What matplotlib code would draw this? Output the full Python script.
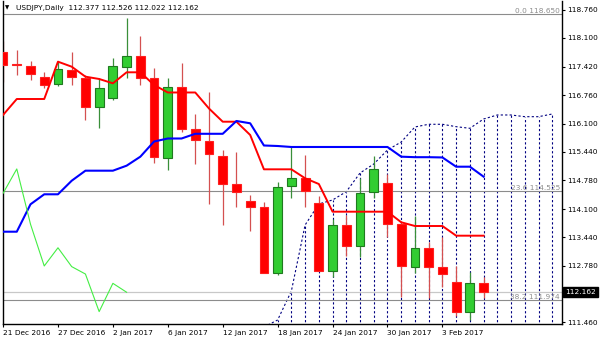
import numpy as np
import pandas as pd
import matplotlib
matplotlib.use("Agg")
import matplotlib.pyplot as plt
from matplotlib.patches import Rectangle

# USDJPY daily bars, 21 Dec 2016 .. 8 Feb 2017
dates = pd.bdate_range("2016-12-21", periods=36)
opens  = [117.776, 117.49, 117.449, 117.19, 117.015, 117.35, 117.17, 116.49, 116.688, 117.425,
          117.675, 117.155, 115.288, 116.96, 115.97, 115.69, 115.35, 114.68, 114.30, 114.145,
          112.605, 114.64, 114.82, 114.24, 112.66, 113.73, 113.24, 114.495, 114.72, 113.755,
          112.76, 113.20, 112.76, 112.41, 111.71, 112.377]
highs  = [118.03, 117.815, 117.558, 117.31, 117.54, 117.76, 117.23, 117.155, 117.62, 118.56,
          118.15, 117.39, 117.155, 117.505, 116.315, 116.83, 115.48, 115.43, 114.43, 114.26,
          114.74, 115.56, 115.365, 114.415, 113.87, 113.965, 114.835, 115.35, 114.915, 113.83,
          113.95, 113.34, 113.46, 112.78, 112.63, 112.526]
lows   = [117.069, 117.23, 117.115, 116.93, 116.98, 116.996, 116.18, 115.997, 116.65, 117.155,
          116.996, 115.19, 115.015, 115.91, 115.148, 114.215, 113.73, 114.16, 113.59, 112.60,
          112.56, 114.37, 114.16, 112.655, 112.51, 113.015, 112.99, 114.355, 113.46, 112.06,
          112.605, 112.02, 112.29, 111.61, 111.525, 112.022]
closes = [117.465, 117.465, 117.255, 116.997, 117.372, 117.192, 116.49, 116.92, 117.449, 117.675,
          117.17, 115.307, 116.96, 115.97, 115.715, 115.38, 114.68, 114.495, 114.16, 112.605,
          114.61, 114.82, 114.525, 112.66, 113.73, 113.25, 114.47, 115.04, 113.75, 112.775,
          113.20, 112.76, 112.587, 111.71, 112.37, 112.162]

# ichimoku lines
tenkan = [116.299, 116.672, 116.672, 116.672, 117.543, 117.426, 117.193, 117.139, 117.038, 117.295,
          117.295, 116.999, 116.824, 116.824, 116.824, 116.45, 116.142, 116.142, 115.832, 115.031,
          115.031, 115.031, 114.822, 114.688, 114.042, 114.042, 114.042, 114.042, 114.042, 113.795,
          113.708, 113.708, 113.708, 113.482, 113.482, 113.482]
kijun = [113.575, 113.575, 114.215, 114.448, 114.448, 114.765, 114.999, 114.999, 114.999, 115.116,
         115.326, 115.68, 115.75, 115.75, 115.86, 115.86, 115.86, 116.159, 116.105, 115.587,
         115.575, 115.552, 115.552, 115.552, 115.552, 115.552, 115.552, 115.552, 115.552, 115.326,
         115.314, 115.314, 115.308, 115.092, 115.092, 114.859]
cloud_idx = list(range(19, 41))
senkou = [111.351, 111.515, 112.191, 113.732, 114.222, 114.315, 114.509, 114.945, 115.155, 115.482,
          115.669, 116.019, 116.082, 116.082, 116.026, 115.988, 116.205, 116.299, 116.299, 116.259,
          116.259, 116.322]
shift = 26

fib_levels = [(0.0, 118.650), (23.6, 114.525), (38.2, 111.974)]
price_ticks = [118.760, 118.100, 117.420, 116.760, 116.100, 115.440, 114.780, 114.100,
               113.440, 112.780, 111.460]
bid = 112.162

fig = plt.figure(figsize=(6, 3.43), dpi=100)
ax = fig.add_axes([2.5 / 600, 19 / 343, 559.5 / 600, 323 / 343])
ax.set_xlim(-0.04, 40.71)
ax.set_ylim(111.421, 118.959)

x = np.arange(len(opens))

# cloud: dotted span + dotted verticals down off the chart
ymin = ax.get_ylim()[0]
ax.plot(cloud_idx, senkou, color="#000080", lw=0.8, ls=(0, (2, 2)), zorder=1)
ax.vlines(cloud_idx, ymin - 1, senkou, color="#000080", lw=0.8, linestyles=(0, (2, 2)), zorder=1)

# fib + bid lines
for lvl, price in fib_levels:
    ax.axhline(price, color="#8c8c8c", lw=0.8, zorder=1)
    ax.text(40.55, price, "%.1f %.3f" % (lvl, price), ha="right", va="bottom",
            fontsize=5.3, color="#8c8c8c", zorder=5)
ax.axhline(bid, color="#c8c8c8", lw=0.9, zorder=1)

# candles
bw = 0.64
for i in x:
    o, h, l, c = opens[i], highs[i], lows[i], closes[i]
    if c >= o:
        fc, ec, wc = "#32cd32", "#1f7a1f", "#3a8f3a"
    else:
        fc, ec, wc = "#ff0000", "#ff2020", "#d45050"
    ax.vlines(i, l, h, color=wc, lw=0.9, zorder=2)
    ax.add_patch(Rectangle((i - bw / 2, min(o, c)), bw, max(abs(c - o), 0.012),
                           facecolor=fc, edgecolor=ec, lw=0.8, zorder=3))

# tenkan / kijun / chikou
ax.plot(x, tenkan, color="#ff0000", lw=1.4, zorder=4)
ax.plot(x, kijun, color="#0000ff", lw=1.5, zorder=4)
ax.plot(x[:len(x) - shift], closes[shift:], color="#44ee44", lw=0.8, zorder=4)

# axes look
for s in ["top"]:
    ax.spines[s].set_visible(False)
for s in ["left", "right", "bottom"]:
    ax.spines[s].set_color("black")
    ax.spines[s].set_linewidth(1)

ax.yaxis.tick_right()
ax.set_yticks(price_ticks)
ax.set_yticklabels(["%.3f" % p for p in price_ticks])
ax.tick_params(axis="y", direction="out", length=2.5, width=0.8, pad=1, labelsize=5.3)

xt = list(range(0, len(dates), 4))
ax.set_xticks(xt)
ax.set_xticklabels(["%d %s" % (dates[i].day, dates[i].strftime("%b %Y")) for i in xt],
                   ha="left", fontsize=5.3)
ax.tick_params(axis="x", direction="out", length=2.5, width=0.8, pad=1.5)

# bid price box
ax.text(1.006, bid, "%.3f" % bid, transform=ax.get_yaxis_transform(), ha="left", va="center",
        fontsize=5.3, color="white", clip_on=False, zorder=6,
        bbox=dict(boxstyle="square,pad=0.3", facecolor="black", edgecolor="black"))

# title
fig.text(5 / 600, 1 - 8 / 343, "\u25bc", fontsize=4, va="center", ha="left")
fig.text(16 / 600, 1 - 8 / 343, "USDJPY,Daily  %.3f %.3f %.3f %.3f" % (opens[-1], highs[-1], lows[-1], closes[-1]),
         fontsize=5.3, va="center", ha="left")

fig.savefig("out.png", dpi=100)
